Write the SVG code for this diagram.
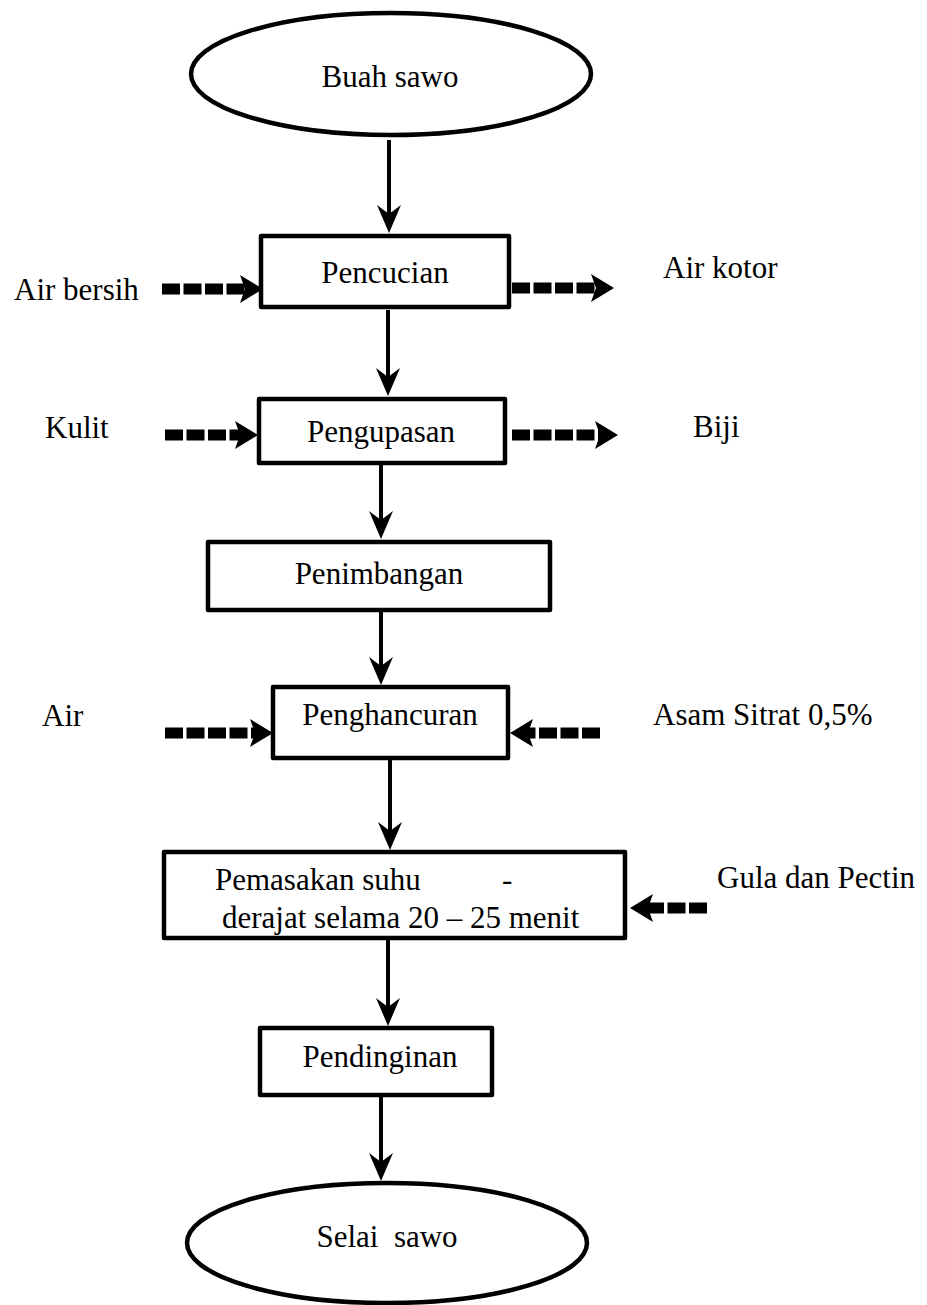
<svg xmlns="http://www.w3.org/2000/svg" width="927" height="1305" viewBox="0 0 927 1305">
<style>
.box{fill:#fff;stroke:#000;stroke-width:4.5;stroke-linejoin:round}
.ell{fill:#fff;stroke:#000;stroke-width:4.5}
.t{font-family:"Liberation Serif","Times New Roman",serif;font-size:31px;fill:#000}
.c{text-anchor:middle}
.solid{stroke:#000;stroke-width:4;fill:none}
.dash{stroke:#000;stroke-width:11;stroke-dasharray:18 3.5;fill:none}
</style>
<defs>
<marker id="ah" markerUnits="userSpaceOnUse" viewBox="0 -14 30 28" markerWidth="30" markerHeight="28" refX="10" refY="0" orient="auto">
<path d="M0,-12 L28,0 L0,12 L9,0 Z" fill="#000"/>
</marker>
<marker id="dh" markerUnits="userSpaceOnUse" viewBox="0 -15 25 30" markerWidth="25" markerHeight="30" refX="8" refY="0" orient="auto">
<path d="M0,-14 L23,0 L0,14 L5,0 Z" fill="#000"/>
</marker>
</defs>

<g id="connectors">
<line class="solid" x1="389" y1="140" x2="389" y2="215" marker-end="url(#ah)"/>
<line class="solid" x1="388" y1="310" x2="388" y2="378" marker-end="url(#ah)"/>
<line class="solid" x1="381" y1="465" x2="381" y2="521" marker-end="url(#ah)"/>
<line class="solid" x1="381" y1="612" x2="381" y2="667" marker-end="url(#ah)"/>
<line class="solid" x1="390" y1="760" x2="390" y2="832" marker-end="url(#ah)"/>
<line class="solid" x1="388" y1="940" x2="388" y2="1008" marker-end="url(#ah)"/>
<line class="solid" x1="381" y1="1097" x2="381" y2="1163" marker-end="url(#ah)"/>

<line class="dash" x1="162" y1="289" x2="248" y2="289" marker-end="url(#dh)"/>
<line class="dash" x1="512" y1="288" x2="599" y2="288" marker-end="url(#dh)"/>
<line class="dash" x1="165" y1="435" x2="243" y2="435" marker-end="url(#dh)"/>
<line class="dash" x1="512" y1="435" x2="603" y2="435" marker-end="url(#dh)"/>
<line class="dash" x1="165" y1="733" x2="258" y2="733" marker-end="url(#dh)"/>
<line class="dash" x1="600" y1="733" x2="525" y2="733" marker-end="url(#dh)"/>
<line class="dash" x1="707" y1="908" x2="645" y2="908" marker-end="url(#dh)"/>
</g>

<g id="buah-sawo">
<ellipse class="ell" cx="391" cy="74" rx="200" ry="61"/>
<text class="t c" x="390" y="87">Buah sawo</text>
</g>

<g id="pencucian">
<rect class="box" x="261" y="236" width="248" height="71"/>
<text class="t c" x="385" y="283">Pencucian</text>
</g>

<g id="pengupasan">
<rect class="box" x="259" y="399" width="246" height="64"/>
<text class="t c" x="381" y="442">Pengupasan</text>
</g>

<g id="penimbangan">
<rect class="box" x="208" y="542" width="342" height="68"/>
<text class="t c" x="379" y="584">Penimbangan</text>
</g>

<g id="penghancuran">
<rect class="box" x="273" y="687" width="235" height="71"/>
<text class="t c" x="390" y="725">Penghancuran</text>
</g>

<g id="pemasakan">
<rect class="box" x="164" y="852" width="461" height="86"/>
<text class="t" x="215" y="890">Pemasakan suhu</text>
<text class="t" x="502" y="890">-</text>
<text class="t" x="222" y="928">derajat selama 20 – 25 menit</text>
</g>

<g id="pendinginan">
<rect class="box" x="260" y="1028" width="232" height="67"/>
<text class="t c" x="380" y="1067">Pendinginan</text>
</g>

<g id="selai-sawo">
<ellipse class="ell" cx="387" cy="1243" rx="200" ry="60"/>
<text class="t c" x="387" y="1247" xml:space="preserve">Selai  sawo</text>
</g>

<g id="labels">
<text class="t" x="14" y="300">Air bersih</text>
<text class="t" x="663" y="278">Air kotor</text>
<text class="t" x="45" y="438">Kulit</text>
<text class="t" x="693" y="437">Biji</text>
<text class="t" x="42" y="726">Air</text>
<text class="t" x="653" y="725">Asam Sitrat 0,5%</text>
<text class="t" x="717" y="888">Gula dan Pectin</text>
</g>
</svg>
